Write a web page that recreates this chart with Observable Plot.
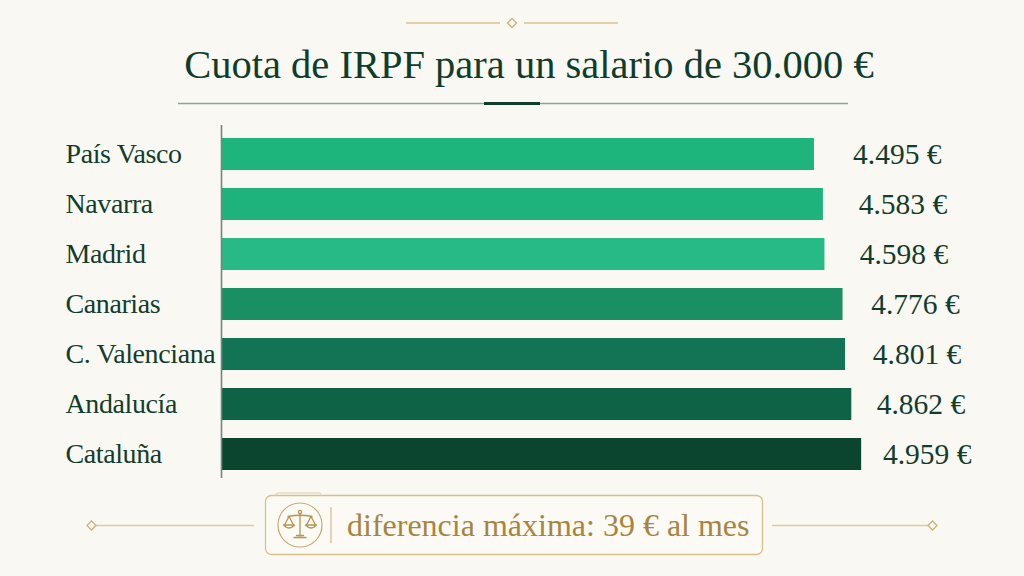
<!DOCTYPE html>
<html>
<head>
<meta charset="utf-8">
<script src="https://cdn.jsdelivr.net/npm/d3@7"></script>
<script src="https://cdn.jsdelivr.net/npm/@observablehq/plot@0.6"></script>
<style>
  html, body { margin: 0; padding: 0; background: #faf8f3; }
  #wrap { position: relative; width: 1024px; height: 576px; overflow: hidden; background: #faf8f3; font-family: "Liberation Serif", "DejaVu Serif", serif; }
  #title { position: absolute; left: 17px; width: 1024px; top: 45px; text-align: center; font-size: 40.5px; line-height: 40.5px; color: #0f3d2b; white-space: nowrap; }
  #chart, #labels { position: absolute; left: 0; top: 121px; }
  #deco { position: absolute; left: 0; top: 0; }
  #note { position: absolute; left: 347px; top: 505px; font-size: 32px; line-height: 40px; color: #a8853f; white-space: nowrap; }
</style>
</head>
<body>
<div id="wrap">
  <svg id="deco" width="1024" height="576" viewBox="0 0 1024 576">
    <line x1="406" y1="23" x2="500" y2="23" stroke="#d8c38f" stroke-width="1.5"/>
    <line x1="524" y1="23" x2="618" y2="23" stroke="#d8c38f" stroke-width="1.5"/>
    <path d="M512,18.5 L516.5,23 L512,27.5 L507.5,23 Z" fill="none" stroke="#cdb273" stroke-width="1.3"/>
    <line x1="178" y1="103.5" x2="848" y2="103.5" stroke="#8ea397" stroke-width="1.5"/>
    <line x1="484" y1="103.5" x2="540" y2="103.5" stroke="#123f2d" stroke-width="3"/>
    <line x1="96" y1="525.5" x2="254" y2="525.5" stroke="#dccb9c" stroke-width="1.5"/>
    <path d="M91.5,521 L96,525.5 L91.5,530 L87,525.5 Z" fill="none" stroke="#cdb273" stroke-width="1.3"/>
    <line x1="772" y1="525.5" x2="928" y2="525.5" stroke="#dccb9c" stroke-width="1.5"/>
    <path d="M932.5,521 L937,525.5 L932.5,530 L928,525.5 Z" fill="none" stroke="#cdb273" stroke-width="1.3"/>
    <rect x="265.5" y="495.5" width="497" height="59" rx="6" ry="6" fill="#fbfaf5" stroke="#d8c08b" stroke-width="1.3"/>
    <path d="M276,495.5 L276,494.5 Q276,493 278,493 L319,493 Q321,493 321,494.5 L321,495.5" fill="none" stroke="#e0cfa5" stroke-width="1"/>
    <circle cx="300" cy="525" r="22" fill="none" stroke="#c9ab6e" stroke-width="1.2"/>
    <g fill="none" stroke="#b8944f" stroke-width="1.3" stroke-linecap="round" stroke-linejoin="round">
      <circle cx="300" cy="512" r="1.6"/>
      <line x1="300" y1="513.6" x2="300" y2="536"/>
      <path d="M288,516.5 Q300,514 312,516.5"/>
      <path d="M289,516.5 L284.5,525 M289,516.5 L293.5,525"/>
      <path d="M283.5,525 Q289,531 294.5,525 Z"/>
      <path d="M311,516.5 L306.5,525 M311,516.5 L315.5,525"/>
      <path d="M305.5,525 Q311,531 316.5,525 Z"/>
      <path d="M294,537.5 L306,537.5 M296.5,535.5 L303.5,535.5"/>
    </g>
    <line x1="331" y1="507" x2="331" y2="543" stroke="#d8c08b" stroke-width="1.3"/>
  </svg>
  <div id="title">Cuota de IRPF para un salario de 30.000 €</div>
  <div id="chart"></div>
  <div id="labels"></div>
  <div id="note">diferencia máxima: 39 € al mes</div>
</div>
<script>
// Data
const regions = ["País Vasco", "Navarra", "Madrid", "Canarias", "C. Valenciana", "Andalucía", "Cataluña"];
const cuotas = [4495, 4583, 4598, 4776, 4801, 4862, 4959];
const valueLabels = ["4.495 €", "4.583 €", "4.598 €", "4.776 €", "4.801 €", "4.862 €", "4.959 €"];
const barColors = ["#1db57c", "#1eb37d", "#27ba86", "#198f63", "#127454", "#0e6245", "#0b4530"];
const xDomain = [-1335, 5400];
const labelDomain = [4400, 5000];

const rows = regions.map((r, i) => ({region: r, value: cuotas[i], label: valueLabels[i], color: barColors[i]}));

const yOpts = () => ({type: "band", domain: regions, axis: null, paddingInner: 0.3625, paddingOuter: 0.317});
const common = {
  width: 1024, height: 365, marginTop: 0, marginBottom: 0,
  style: {background: "transparent", fontFamily: "'Liberation Serif', serif", overflow: "visible"}
};

const chart = Plot.plot({
  ...common,
  marginLeft: 221,
  marginRight: 118,
  x: {domain: xDomain, axis: null},
  y: yOpts(),
  marks: [
    Plot.barX(rows, {y: "region", x1: () => xDomain[0], x2: "value", fill: "color"}),
    Plot.ruleX([xDomain[0]], {stroke: "#71897d", strokeWidth: 1.6, insetTop: 4, insetBottom: 8}),
    Plot.text(rows, {y: "region", text: "region", frameAnchor: "left", textAnchor: "start", dx: -156, fontSize: 28, fill: "#123d2c", lineAnchor: "middle"})
  ]
});
chart.querySelectorAll("text").forEach(t => t.style.letterSpacing = "-0.4px");
document.getElementById("chart").appendChild(chart);

// value labels on their own compressed label scale
const labels = Plot.plot({
  ...common,
  marginLeft: 846.4,
  marginRight: 138.9,
  x: {domain: labelDomain, axis: null},
  y: yOpts(),
  marks: [
    Plot.text(rows, {y: "region", x: "value", text: "label", textAnchor: "start", fontSize: 29.5, fill: "#123d2c", lineAnchor: "middle"})
  ]
});
document.getElementById("labels").appendChild(labels);
</script>
</body>
</html>
